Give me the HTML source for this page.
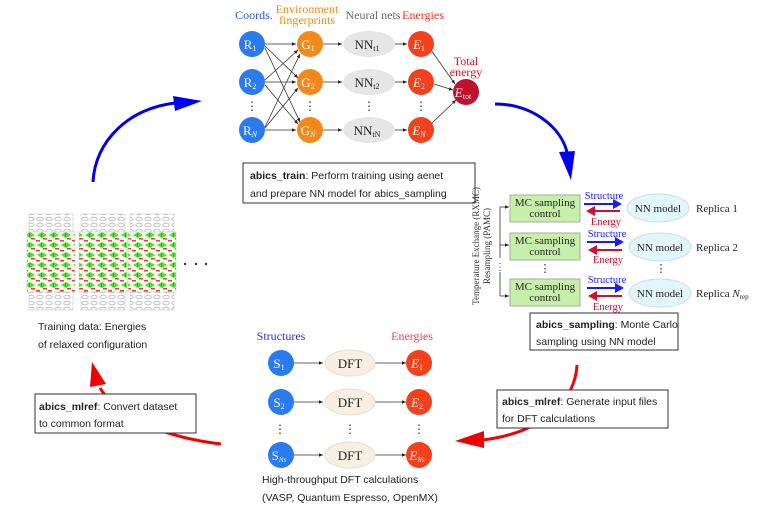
<!DOCTYPE html>
<html><head><meta charset="utf-8"><style>
body{margin:0;background:#fff;width:763px;height:505px;overflow:hidden}
svg{display:block}
text{font-family:"Liberation Serif",serif}
.s{font-family:"Liberation Sans",sans-serif;font-size:10.5px;fill:#222}
</style></head><body>
<svg width="763" height="505" viewBox="0 0 763 505" xmlns="http://www.w3.org/2000/svg">
<defs>
<marker id="ak" markerWidth="6" markerHeight="6" refX="5" refY="3" orient="auto"><path d="M0,0.8 L5,3 L0,5.2z" fill="#222"/></marker>
<pattern id="cr" width="12" height="10" patternUnits="userSpaceOnUse">
<rect width="12" height="10" fill="#f4fff0"/>
<path d="M1,5 L6,2 L11,5 L6,8z" fill="#55dd33"/>
<rect x="0" y="0" width="4" height="1.5" fill="#e04040"/>
<rect x="7" y="8" width="4" height="1.5" fill="#e04040"/>
<rect x="5" y="3" width="1" height="4" fill="#d05050"/>
</pattern>
<pattern id="gr" width="9" height="6" patternUnits="userSpaceOnUse">
<rect width="9" height="6" fill="#fff"/>
<ellipse cx="4" cy="3" rx="3.2" ry="1.8" fill="none" stroke="#bbb" stroke-width="0.8"/>
</pattern>
</defs>

<text x="254" y="19" font-size="12" fill="#2a56e8" text-anchor="middle">Coords.</text>
<text x="307" y="13" font-size="12" fill="#f08a10" text-anchor="middle">Environment</text>
<text x="307" y="24" font-size="12" fill="#f08a10" text-anchor="middle">fingerprints</text>
<text x="373" y="19" font-size="12" fill="#666" text-anchor="middle">Neural nets</text>
<text x="423" y="19" font-size="12" fill="#f03020" text-anchor="middle">Energies</text>
<text x="466" y="65" font-size="12" fill="#e0102a" text-anchor="middle">Total</text>
<text x="466" y="76" font-size="12" fill="#e0102a" text-anchor="middle">energy</text>

<g stroke="#333" stroke-width="0.8" fill="none" marker-end="url(#ak)">
<line x1="265" y1="44" x2="296" y2="44"/><line x1="265" y1="82" x2="296" y2="82"/><line x1="265" y1="130" x2="296" y2="130"/>
<line x1="265" y1="46" x2="298" y2="78"/><line x1="265" y1="48" x2="300" y2="122"/>
<line x1="265" y1="80" x2="298" y2="50"/><line x1="265" y1="85" x2="298" y2="124"/>
<line x1="265" y1="127" x2="300" y2="54"/><line x1="265" y1="128" x2="298" y2="88"/>
<line x1="323" y1="44" x2="342" y2="44"/><line x1="323" y1="82" x2="342" y2="82"/><line x1="323" y1="130" x2="342" y2="130"/>
<line x1="395" y1="44" x2="407" y2="44"/><line x1="395" y1="82" x2="407" y2="82"/><line x1="395" y1="130" x2="407" y2="130"/>
<line x1="431" y1="50" x2="455" y2="84"/><line x1="434" y1="84" x2="453" y2="90"/><line x1="431" y1="124" x2="456" y2="100"/>
</g>
<g font-size="13" text-anchor="middle" fill="#fff">
<circle cx="252" cy="44" r="13" fill="#2a7af0"/><text x="250" y="49">R<tspan font-size="8" dy="2">1</tspan></text>
<circle cx="252" cy="82" r="13" fill="#2a7af0"/><text x="250" y="87">R<tspan font-size="8" dy="2">2</tspan></text>
<circle cx="252" cy="130" r="13" fill="#2a7af0"/><text x="250" y="135">R<tspan font-size="8" dy="2" font-style="italic">N</tspan></text>
<circle cx="310" cy="44" r="13" fill="#f5881a"/><text x="308" y="49">G<tspan font-size="8" dy="2">1</tspan></text>
<circle cx="310" cy="82" r="13" fill="#f5881a"/><text x="308" y="87">G<tspan font-size="8" dy="2">2</tspan></text>
<circle cx="310" cy="130" r="13" fill="#f5881a"/><text x="308" y="135">G<tspan font-size="8" dy="2" font-style="italic">N</tspan></text>
<ellipse cx="369" cy="44" rx="26" ry="13" fill="#e6e6e6"/><text x="367" y="49" fill="#222">NN<tspan font-size="8" dy="2">t1</tspan></text>
<ellipse cx="369" cy="82" rx="26" ry="13" fill="#e6e6e6"/><text x="367" y="87" fill="#222">NN<tspan font-size="8" dy="2">t2</tspan></text>
<ellipse cx="369" cy="130" rx="26" ry="13" fill="#e6e6e6"/><text x="367" y="135" fill="#222">NN<tspan font-size="8" dy="2">tN</tspan></text>
<circle cx="421" cy="44" r="13" fill="#f5401c"/><text x="419" y="49" font-style="italic">E<tspan font-size="8" dy="2" font-style="normal">1</tspan></text>
<circle cx="421" cy="82" r="13" fill="#f5401c"/><text x="419" y="87" font-style="italic">E<tspan font-size="8" dy="2" font-style="normal">2</tspan></text>
<circle cx="421" cy="130" r="13" fill="#f5401c"/><text x="419" y="135" font-style="italic">E<tspan font-size="8" dy="2">N</tspan></text>
<circle cx="466" cy="92" r="13" fill="#c0102a"/><text x="463" y="97" font-style="italic">E<tspan font-size="8" dy="2" font-style="normal">tot</tspan></text>
</g>
<g font-size="12" fill="#333" text-anchor="middle">
<text x="252" y="110">⋮</text><text x="310" y="110">⋮</text><text x="369" y="110">⋮</text><text x="421" y="110">⋮</text>
</g>
<rect x="243" y="163" width="232" height="40" fill="#fff" stroke="#333" stroke-width="1"/>
<text class="s" x="250" y="179"><tspan font-weight="bold">abics_train</tspan>: Perform training using aenet</text>
<text class="s" x="250" y="197">and prepare NN model for abics_sampling</text>

<path d="M93,182 C95,140 130,108 175,103" fill="none" stroke="#0000f0" stroke-width="3"/>
<path d="M173,96 L202,101 L175,111z" fill="#0000f0"/>
<path d="M495,104 C530,104 560,125 567,152" fill="none" stroke="#0000f0" stroke-width="3"/>
<path d="M559,152 L575,151 L571,180z" fill="#0000f0"/>

<text transform="translate(479,246) rotate(-90)" font-size="9" fill="#333" text-anchor="middle">Temperature Exchange (RXMC)</text>
<text transform="translate(490,246) rotate(-90)" font-size="9" fill="#333" text-anchor="middle">Resampling (PAMC)</text>
<path d="M500,258 V207 M500,272 V296" stroke="#333" stroke-width="0.8" fill="none"/>
<text x="500" y="270" font-size="10" text-anchor="middle" fill="#333">⋮</text>
<g stroke="#333" stroke-width="0.8" marker-end="url(#ak)">
<line x1="500" y1="207" x2="509" y2="207"/><line x1="500" y1="245" x2="509" y2="245"/><line x1="500" y1="296" x2="509" y2="296"/>
</g>
<g font-size="11" text-anchor="middle" fill="#222">
<rect x="510" y="195" width="70" height="27" fill="#c6efaa" stroke="#aaa"/><text x="545" y="206">MC sampling</text><text x="545" y="217">control</text>
<rect x="510" y="233" width="70" height="27" fill="#c6efaa" stroke="#aaa"/><text x="545" y="244">MC sampling</text><text x="545" y="255">control</text>
<rect x="510" y="279" width="70" height="27" fill="#c6efaa" stroke="#aaa"/><text x="545" y="290">MC sampling</text><text x="545" y="301">control</text>
<text x="545" y="272">⋮</text><text x="661" y="272">⋮</text>
<ellipse cx="658" cy="208" rx="31" ry="14" fill="#e2f7fb" stroke="#cde"/><text x="658" y="212">NN model</text>
<ellipse cx="660" cy="247" rx="31" ry="14" fill="#e2f7fb" stroke="#cde"/><text x="660" y="251">NN model</text>
<ellipse cx="660" cy="293" rx="31" ry="14" fill="#e2f7fb" stroke="#cde"/><text x="660" y="297">NN model</text>
</g>
<g font-size="11" fill="#222">
<text x="696" y="212">Replica 1</text><text x="696" y="251">Replica 2</text>
<text x="696" y="297">Replica <tspan font-style="italic">N</tspan><tspan font-size="7" dy="2">rep</tspan></text>
</g>
<g font-size="10.5" text-anchor="middle">
<text x="604" y="199" fill="#1a1aff">Structure</text><text x="606" y="225" fill="#d01030">Energy</text>
<text x="607" y="237" fill="#1a1aff">Structure</text><text x="608" y="263" fill="#d01030">Energy</text>
<text x="607" y="283" fill="#1a1aff">Structure</text><text x="608" y="310" fill="#d01030">Energy</text>
</g>
<g stroke-width="2">
<line x1="584" y1="204" x2="614" y2="204" stroke="#1a1aff"/><path d="M613,199 L622,204 L613,209z" fill="#1a1aff"/>
<line x1="594" y1="211" x2="620" y2="211" stroke="#d01030"/><path d="M595,206 L586,211 L595,216z" fill="#d01030"/>
<line x1="587" y1="242" x2="616" y2="242" stroke="#1a1aff"/><path d="M615,237 L624,242 L615,247z" fill="#1a1aff"/>
<line x1="596" y1="250" x2="622" y2="250" stroke="#d01030"/><path d="M597,245 L588,250 L597,255z" fill="#d01030"/>
<line x1="587" y1="288" x2="616" y2="288" stroke="#1a1aff"/><path d="M615,283 L624,288 L615,293z" fill="#1a1aff"/>
<line x1="596" y1="296" x2="622" y2="296" stroke="#d01030"/><path d="M597,291 L588,296 L597,301z" fill="#d01030"/>
</g>
<rect x="530" y="313" width="148" height="37" fill="#fff" stroke="#333" stroke-width="1"/>
<text class="s" x="536" y="328"><tspan font-weight="bold">abics_sampling</tspan>: Monte Carlo</text>
<text class="s" x="536" y="345">sampling using NN model</text>

<path d="M577,365 C575,400 545,432 483,440" fill="none" stroke="#f00000" stroke-width="3"/>
<path d="M484,431 L455,441 L484,448z" fill="#f00000"/>
<rect x="497" y="390" width="171" height="38" fill="#fff" stroke="#333" stroke-width="1"/>
<text class="s" x="502" y="405"><tspan font-weight="bold">abics_mlref</tspan>: Generate input files</text>
<text class="s" x="502" y="422">for DFT calculations</text>

<text x="281" y="340" font-size="12" fill="#3030e0" text-anchor="middle">Structures</text>
<text x="412" y="340" font-size="12" fill="#f04050" text-anchor="middle">Energies</text>
<g stroke="#333" stroke-width="0.8" marker-end="url(#ak)">
<line x1="294" y1="363" x2="323" y2="363"/><line x1="375" y1="363" x2="406" y2="363"/>
<line x1="294" y1="402" x2="323" y2="402"/><line x1="375" y1="402" x2="406" y2="402"/>
<line x1="294" y1="455" x2="323" y2="455"/><line x1="375" y1="455" x2="406" y2="455"/>
</g>
<g font-size="13" text-anchor="middle" fill="#fff">
<circle cx="281" cy="363" r="13" fill="#2a7af0"/><text x="279" y="368">S<tspan font-size="8" dy="2">1</tspan></text>
<circle cx="281" cy="402" r="13" fill="#2a7af0"/><text x="279" y="407">S<tspan font-size="8" dy="2">2</tspan></text>
<circle cx="281" cy="455" r="13" fill="#2a7af0"/><text x="279" y="460">S<tspan font-size="7" dy="2" font-style="italic">Ns</tspan></text>
<ellipse cx="350" cy="363" rx="25" ry="13" fill="#f8efe2" stroke="#e8e0d0"/><text x="350" y="368" fill="#222">DFT</text>
<ellipse cx="350" cy="402" rx="25" ry="13" fill="#f8efe2" stroke="#e8e0d0"/><text x="350" y="407" fill="#222">DFT</text>
<ellipse cx="350" cy="455" rx="25" ry="13" fill="#f8efe2" stroke="#e8e0d0"/><text x="350" y="460" fill="#222">DFT</text>
<circle cx="419" cy="363" r="13" fill="#f5401c"/><text x="417" y="368" font-style="italic">E<tspan font-size="8" dy="2" font-style="normal">1</tspan></text>
<circle cx="419" cy="402" r="13" fill="#f5401c"/><text x="417" y="407" font-style="italic">E<tspan font-size="8" dy="2" font-style="normal">2</tspan></text>
<circle cx="419" cy="455" r="13" fill="#f5401c"/><text x="417" y="460" font-style="italic">E<tspan font-size="7" dy="2">Ns</tspan></text>
</g>
<g font-size="12" fill="#333" text-anchor="middle">
<text x="280" y="433">⋮</text><text x="350" y="433">⋮</text><text x="419" y="433">⋮</text>
</g>
<text class="s" x="262" y="483">High-throughput DFT calculations</text>
<text class="s" x="262" y="501">(VASP, Quantum Espresso, OpenMX)</text>

<path d="M221,444 C170,438 120,420 100,388" fill="none" stroke="#f00000" stroke-width="3"/>
<path d="M90,387 L92,362 L106,384z" fill="#f00000"/>
<rect x="35" y="394" width="161" height="39" fill="#fff" stroke="#333" stroke-width="1"/>
<text class="s" x="39" y="410"><tspan font-weight="bold">abics_mlref</tspan>: Convert dataset</text>
<text class="s" x="39" y="427">to common format</text>

<g stroke="#ccc" stroke-width="0.6">
<rect x="29" y="214" width="44" height="18" fill="url(#gr)"/><rect x="27" y="232" width="48" height="60" fill="url(#cr)"/><rect x="29" y="292" width="44" height="18" fill="url(#gr)"/>
<rect x="81" y="214" width="44" height="18" fill="url(#gr)"/><rect x="79" y="232" width="48" height="60" fill="url(#cr)"/><rect x="81" y="292" width="44" height="18" fill="url(#gr)"/>
<rect x="130" y="214" width="44" height="18" fill="url(#gr)"/><rect x="128" y="232" width="48" height="60" fill="url(#cr)"/><rect x="130" y="292" width="44" height="18" fill="url(#gr)"/>
</g>
<g fill="#333"><circle cx="185" cy="264" r="1.2"/><circle cx="196" cy="264" r="1.2"/><circle cx="206" cy="264" r="1.2"/></g>
<text class="s" x="38" y="330">Training data: Energies</text>
<text class="s" x="38" y="348">of relaxed configuration</text>
</svg>
</body></html>
